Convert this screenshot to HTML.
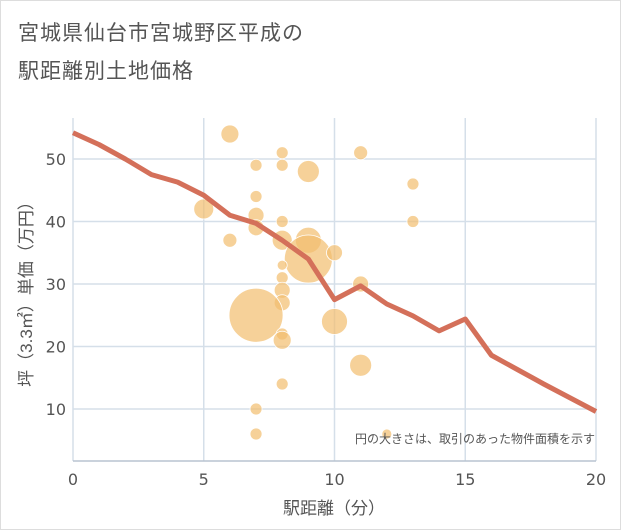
<!DOCTYPE html>
<html><head><meta charset="utf-8"><style>
body{margin:0;background:#fff;font-family:"Liberation Sans","Noto Sans CJK JP",sans-serif}
#wrap{position:relative;width:619px;height:528px;border:1px solid #ddd;background:#fff}
.t{position:absolute;left:17px;font-size:21px;color:#555;letter-spacing:1px}
</style></head><body>
<div id="wrap">
<div class="t" style="top:16px">宮城県仙台市宮城野区平成の</div>
<div class="t" style="top:54px">駅距離別土地価格</div>
<svg id="c" width="621" height="530" style="position:absolute;left:-1px;top:-1px"></svg>
</div>
<script>
const xTicks=[0,5,10,15,20];
const yTicks=[10,20,30,40,50];
const bx=[6,8,7,8,9,11,13,13,5,7,7,7,6,8,8,9,9,10,8,8,8,8,7,10,8,8,11,8,7,7,12,11];
const by=[54,51,49,49,48,51,46,40,42,44,41,39,37,40,37,37,34,35,33,31,29,27,25,24,22,21,17,14,10,6,6,30];
const br=[9,6,6,6,11,7,6,6,10,6,8,8,7,6,10,13,24,8,5,6,8,8,27,13,6,9,11,6,6,6,5,8];
const lx=[0,1,2,3,4,5,6,7,8,9,10,11,12,13,14,15,16,17,18,19,20];
const ly=[54.2,52.3,50,47.5,46.3,44.2,41,39.7,37,34,27.5,29.7,26.8,24.9,22.5,24.4,18.6,16.3,14,11.8,9.6];
const NS='http://www.w3.org/2000/svg',svg=document.getElementById('c');
const X=v=>73+v*26.15, Y=v=>471.5-v*6.25;
function mk(t,a,p){const e=document.createElementNS(NS,t);for(const k in a)e.setAttribute(k,a[k]);(p||svg).appendChild(e);return e;}
xTicks.forEach(v=>{const l=mk('line',{x1:X(v),x2:X(v),y1:118,y2:461,stroke:'#d5dfe9','stroke-width':1.5});


const t=mk('text',{x:X(v),y:485,'text-anchor':'middle','font-size':16,fill:'#555','font-family':'DejaVu Sans, sans-serif'});t.textContent=v;

});
yTicks.forEach(v=>{const l=mk('line',{x1:73,x2:596,y1:Y(v),y2:Y(v),stroke:'#d5dfe9','stroke-width':1.5});


const t=mk('text',{x:66,y:Y(v)+6,'text-anchor':'end','font-size':16,fill:'#555','font-family':'DejaVu Sans, sans-serif'});t.textContent=v;

});
const ax=mk('line',{x1:73,x2:596,y1:461,y2:461,stroke:'#b8c4d0','stroke-width':1.5});


bx.forEach((v,i)=>{const c=mk('circle',{cx:X(v),cy:Y(by[i]),r:br[i],fill:'rgba(242,190,110,0.7)',stroke:'#fff','stroke-width':0.8});

});
const p=mk('polyline',{points:lx.map((v,i)=>X(v)+','+Y(ly[i])).join(' '),fill:'none',stroke:'#d4705a','stroke-width':5,'stroke-linejoin':'round'});


const n=mk('text',{x:595,y:443,'text-anchor':'end','font-size':12,fill:'#555'});n.textContent='円の大きさは、取引のあった物件面積を示す';


const xt=mk('text',{x:334,y:514,'text-anchor':'middle','font-size':17,fill:'#555'});xt.textContent='駅距離（分）';


const yt=mk('text',{x:0,y:0,'text-anchor':'middle','font-size':17,fill:'#555',transform:'translate(32,290) rotate(-90)'});yt.textContent='坪（3.3㎡）単価（万円）';


</script>
</body></html>
